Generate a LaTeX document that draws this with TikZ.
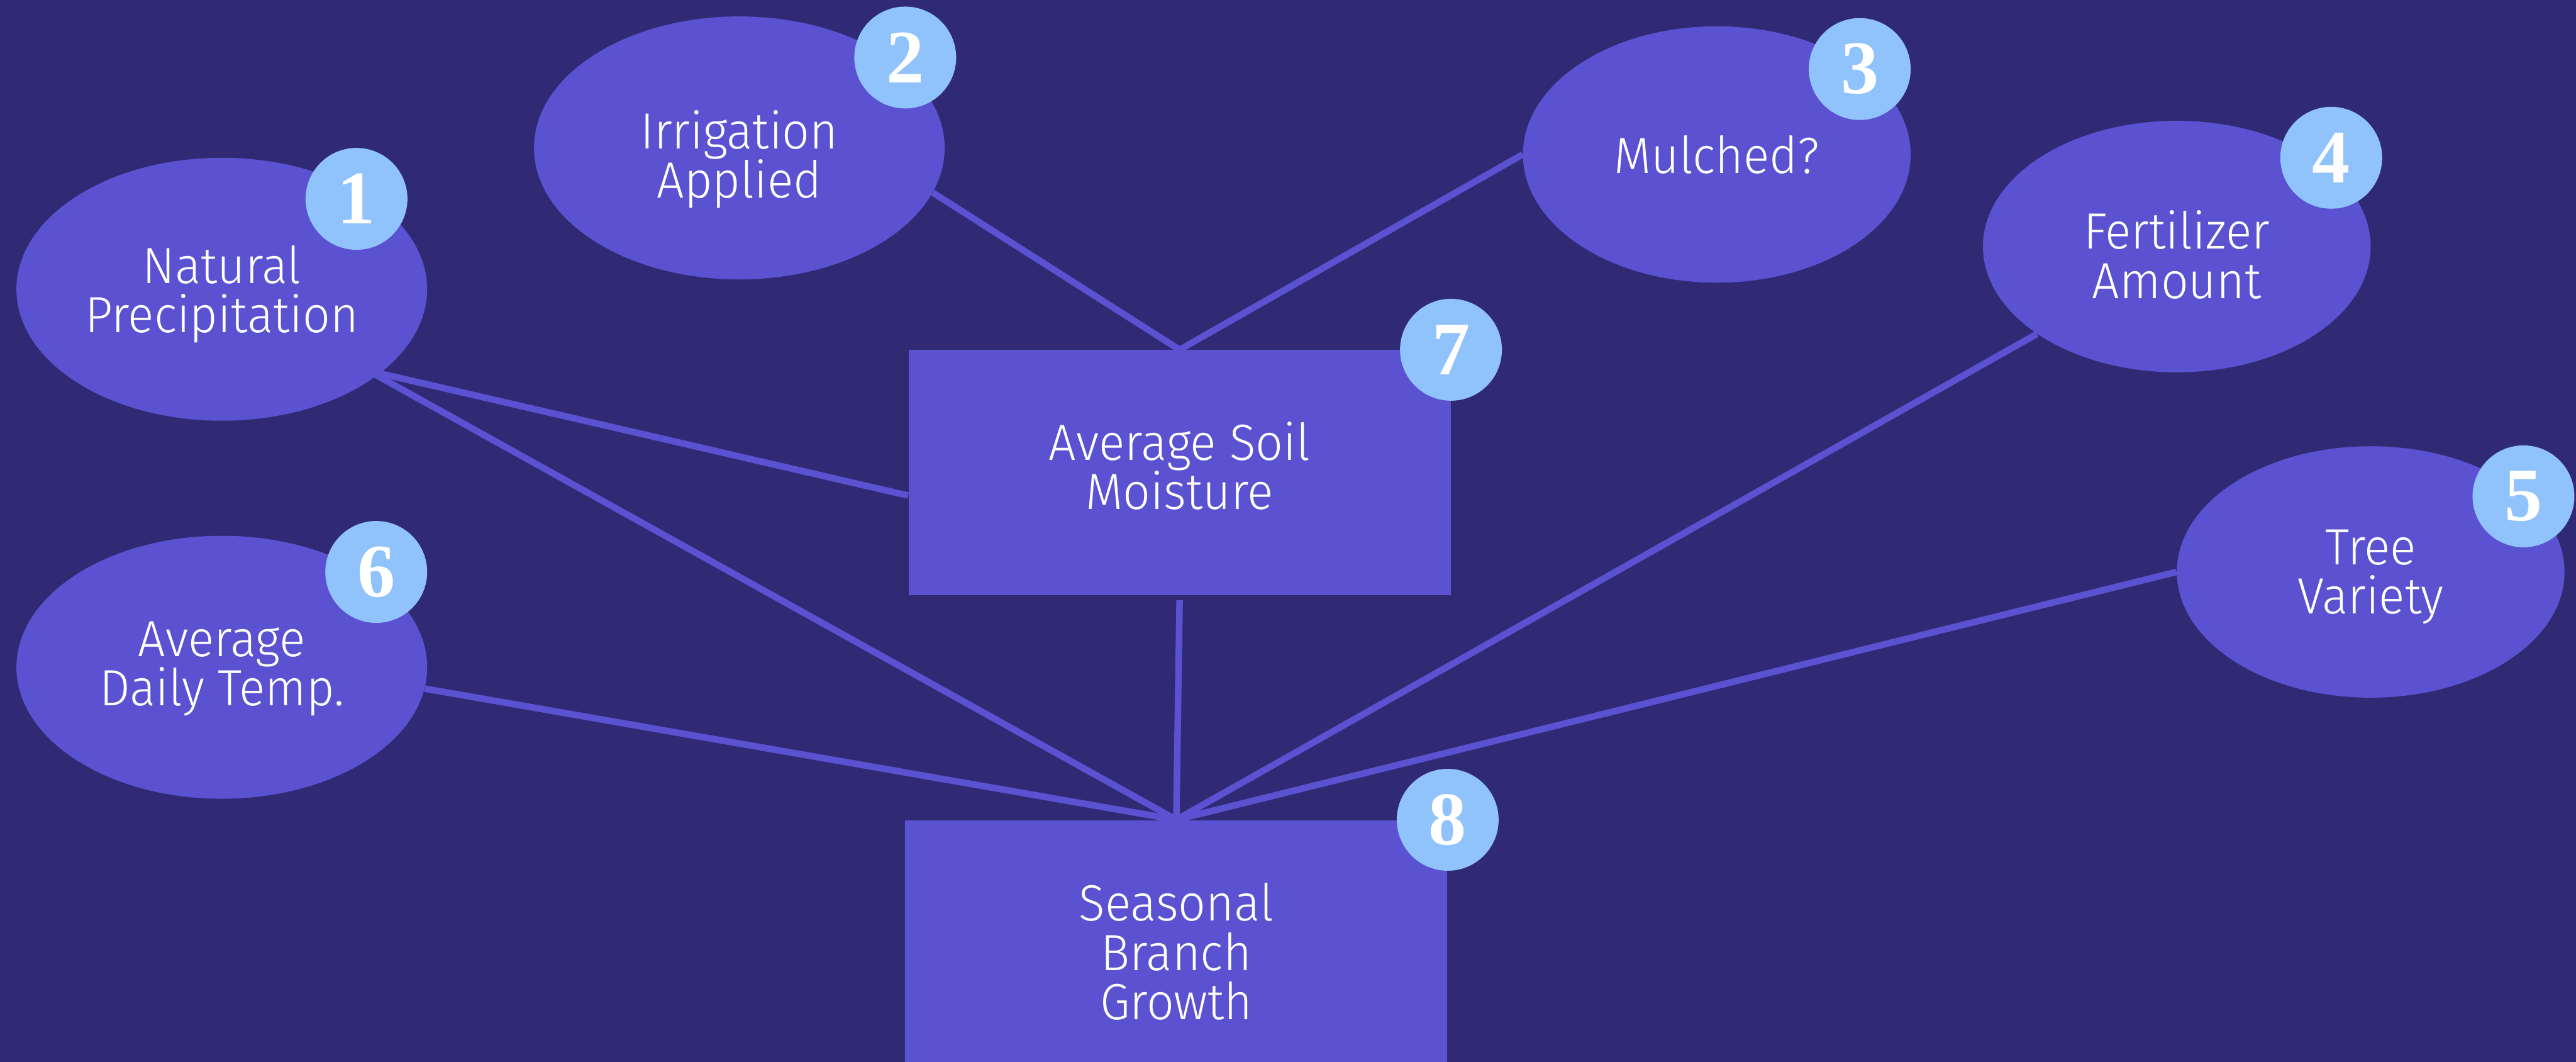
\documentclass[tikz,border=0pt]{standalone}
\usepackage{fontspec}
\setmainfont{Fira Sans}[UprightFont=* Light, FakeStretch=0.95]
\newfontfamily\badgefont{Liberation Serif}
\usetikzlibrary{shapes.geometric,calc,backgrounds}
\definecolor{bgnavy}{HTML}{2F2A73}
\definecolor{nodefill}{HTML}{5A52D0}
\definecolor{badgeblue}{HTML}{90C2FC}
\begin{document}
\begin{tikzpicture}[x=1pt,y=-1pt,
  factor/.style={ellipse, fill=nodefill, inner sep=0pt},
  block/.style={rectangle, fill=nodefill, inner sep=0pt},
  caption/.style={text=white, align=center, inner sep=0pt,
    font=\fontsize{31}{30}\selectfont},
  badge/.style={circle, fill=badgeblue, text=white, minimum size=62pt, inner sep=0pt,
    font=\badgefont\bfseries\fontsize{46}{46}\selectfont},
  link/.style={draw=nodefill, line width=4pt}]
\useasboundingbox (0,0) rectangle (1568,646);
\begin{pgfonlayer}{background}
  \fill[bgnavy] (0,0) rectangle (1568,646);
\end{pgfonlayer}
\clip (0,0) rectangle (1568,646);

% input factors
\node[factor, minimum width=250pt, minimum height=160pt] (np) at (135,176) {};
\node[factor, minimum width=250pt, minimum height=160pt] (ir) at (450,90) {};
\node[factor, minimum width=236pt, minimum height=156pt] (mu) at (1045,94) {};
\node[factor, minimum width=236pt, minimum height=153pt] (fe) at (1325,150) {};
\node[factor, minimum width=236pt, minimum height=153pt] (tv) at (1443,348) {};
\node[factor, minimum width=250pt, minimum height=160pt] (dt) at (135,406) {};

% intermediate and outcome variables
\node[block, minimum width=330pt, minimum height=149pt] (sm) at (718,287.5) {};
\node[block, minimum width=330pt, minimum height=160pt] (gr) at (716,579) {};

% captions
\node[caption] (npt) at ([yshift=-3pt]np.center) {Natural\\Precipitation};
\node[caption] (irt) at ([yshift=-7pt]ir.center) {Irrigation\\Applied};
\node[caption] (mut) at (mu.center) {Mulched?};
\node[caption] (fet) at ([yshift=-5pt]fe.center) {Fertilizer\\Amount};
\node[caption] (tvt) at ([yshift=-3pt]tv.center) {Tree\\Variety};
\node[caption] (dtt) at ([yshift=-1pt]dt.center) {Average\\Daily Temp.};
\node[caption] (smt) at ([yshift=4pt]sm.center) {Average Soil\\Moisture};
\node[caption] (grt) at (gr.center) {Seasonal\\Branch\\Growth};

% number badges
\node[badge] (b1) at (217,121) {1};
\node[badge] (b2) at (551,35) {2};
\node[badge] (b3) at (1132,42) {3};
\node[badge] (b4) at (1419,96) {4};
\node[badge] (b5) at (1536,302) {5};
\node[badge] (b6) at (229,348) {6};
\node[badge] (b7) at (sm.north east) {7};
\node[badge] (b8) at (gr.north east) {8};

% connectors behind the shapes
\begin{pgfonlayer}{background}
  \draw[link] (np.-28) -- ([yshift=-14pt]sm.west);
  \draw[link] (np.center) -- (gr.north);
  \draw[link] (ir.-13) -- (sm.north);
  \draw[link] (mu.west) -- (sm.north);
  \draw[link] (fe.212) -- (gr.north);
  \draw[link] (tv.west) -- (gr.north);
  \draw[link] (dt.-6) -- (gr.north);
  \draw[link] ([yshift=-3pt]sm.south) -- (gr.north);
\end{pgfonlayer}
\end{tikzpicture}
\end{document}
